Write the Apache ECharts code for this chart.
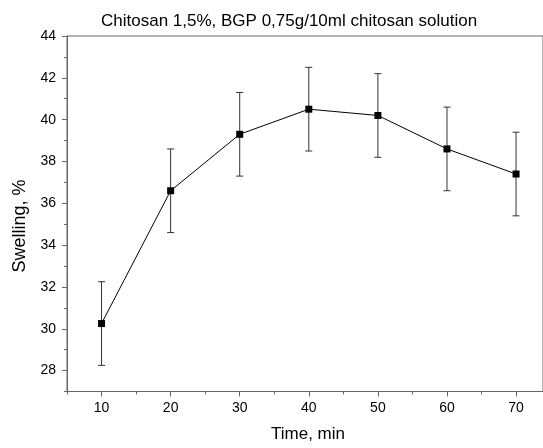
<!DOCTYPE html>
<html>
<head>
<meta charset="utf-8">
<script src="https://cdn.jsdelivr.net/npm/echarts@6/dist/echarts.min.js"></script>
<style>html,body{margin:0;padding:0;background:#fff}#c{width:543px;height:448px}</style>
</head>
<body>
<div id="c"></div>
<script>
var times = [10, 20, 30, 40, 50, 60, 70];
var swelling = [30.25, 36.6, 39.3, 40.5, 40.2, 38.6, 37.4];
var errors = [2, 2, 2, 2, 2, 2, 2];
var xMajorTicks = [10, 20, 30, 40, 50, 60, 70];
var xMinorTicks = [5, 15, 25, 35, 45, 55, 65];
var yMajorTicks = [28, 30, 32, 34, 36, 38, 40, 42, 44];
var yMinorTicks = [27, 29, 31, 33, 35, 37, 39, 41, 43];
var titleText = 'Chitosan 1,5%, BGP 0,75g/10ml chitosan solution';
var xName = 'Time, min';
var yName = 'Swelling, %';

var FONT = 'Liberation Sans, Arial, sans-serif';
var AX = '#666';
var chart = echarts.init(document.getElementById('c'), null, {renderer: 'canvas'});

var points = times.map(function (t, i) { return [t, swelling[i]]; });
var errData = times.map(function (t, i) { return [t, swelling[i] - errors[i], swelling[i] + errors[i]]; });

function baseX(extra) {
  return Object.assign({
    type: 'value', min: 5, max: 73.9, interval: 5, position: 'bottom',
    axisLine: {show: true, lineStyle: {color: AX, width: 1}},
    splitLine: {show: false}
  }, extra);
}
function baseY(extra) {
  return Object.assign({
    type: 'value', min: 27, max: 44, interval: 1, position: 'left',
    axisLine: {show: true, lineStyle: {color: AX, width: 1}},
    splitLine: {show: false}
  }, extra);
}

chart.setOption({
  animation: false,
  backgroundColor: '#fff',
  grid: {left: 67, right: 0, top: 36, bottom: 56.5, show: true, borderColor: AX, borderWidth: 1, backgroundColor: 'transparent'},
  title: {
    text: titleText, left: 96, top: 8,
    textStyle: {fontFamily: FONT, fontSize: 17, fontWeight: 'normal', color: '#000'}
  },
  graphic: [{
    type: 'text', x: 20, y: 226, rotation: Math.PI / 2,
    style: {text: yName, font: '18px ' + FONT, fill: '#000', textAlign: 'center', textVerticalAlign: 'middle'}
  }],
  xAxis: [
    baseX({
      name: xName, nameLocation: 'middle', nameGap: 34,
      nameTextStyle: {fontFamily: FONT, fontSize: 17, color: '#000', padding: [0, 0, 0, 6]},
      axisTick: {show: true, inside: false, length: 5, customValues: xMajorTicks, lineStyle: {color: AX}},
      axisLabel: {show: true, customValues: xMajorTicks, margin: 10, fontFamily: FONT, fontSize: 14, color: '#000'}
    }),
    baseX({
      axisTick: {show: true, inside: false, length: 3, customValues: xMinorTicks, lineStyle: {color: AX}},
      axisLabel: {show: false}
    })
  ],
  yAxis: [
    baseY({
      axisTick: {show: true, inside: false, length: 5, customValues: yMajorTicks, lineStyle: {color: AX}},
      axisLabel: {show: true, customValues: yMajorTicks, margin: 11, fontFamily: FONT, fontSize: 14, color: '#000'}
    }),
    baseY({
      axisTick: {show: true, inside: false, length: 3, customValues: yMinorTicks, lineStyle: {color: AX}},
      axisLabel: {show: false}
    })
  ],
  series: [
    {
      type: 'custom', xAxisIndex: 0, yAxisIndex: 0, data: errData, z: 2,
      renderItem: function (params, api) {
        var x = api.value(0);
        var lo = api.coord([x, api.value(1)]);
        var hi = api.coord([x, api.value(2)]);
        var hw = 3.5;
        var st = {stroke: '#333', lineWidth: 1, fill: null};
        return {type: 'group', children: [
          {type: 'line', shape: {x1: lo[0], y1: lo[1], x2: hi[0], y2: hi[1]}, style: st},
          {type: 'line', shape: {x1: lo[0] - hw, y1: lo[1], x2: lo[0] + hw, y2: lo[1]}, style: st},
          {type: 'line', shape: {x1: hi[0] - hw, y1: hi[1], x2: hi[0] + hw, y2: hi[1]}, style: st}
        ]};
      }
    },
    {
      type: 'line', xAxisIndex: 0, yAxisIndex: 0, data: points, z: 3,
      symbol: 'rect', symbolSize: 7, showSymbol: true,
      lineStyle: {color: '#000', width: 1},
      itemStyle: {color: '#000'}
    }
  ]
});
</script>
</body>
</html>
